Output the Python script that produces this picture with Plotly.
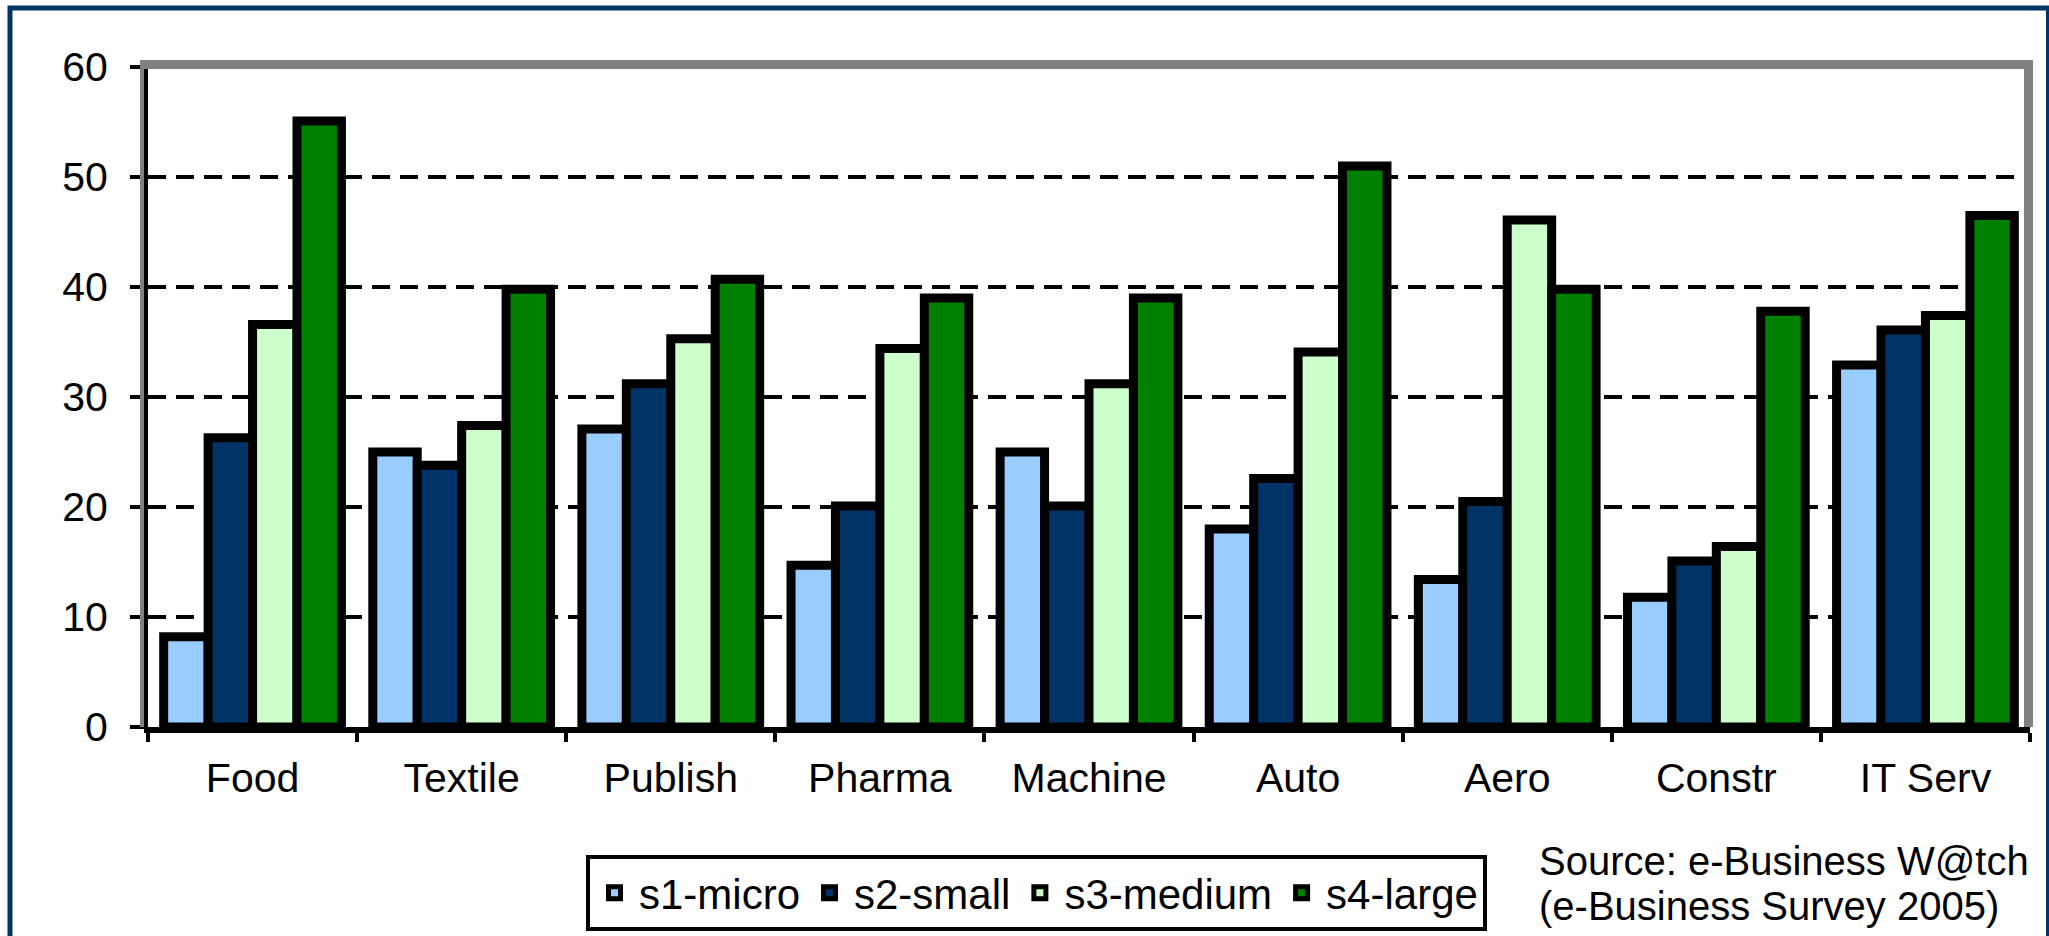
import plotly.graph_objects as go

categories = ["Food", "Textile", "Publish", "Pharma", "Machine", "Auto", "Aero", "Constr", "IT Serv"]
series_names = ["s1-micro", "s2-small", "s3-medium", "s4-large"]
s1_micro = [8.2, 25.0, 27.1, 14.7, 25.0, 18.0, 13.4, 11.8, 32.9]
s2_small = [26.3, 23.8, 31.2, 20.1, 20.1, 22.6, 20.5, 15.1, 36.1]
s3_medium = [36.6, 27.4, 35.3, 34.4, 31.2, 34.1, 46.1, 16.4, 37.4]
s4_large = [55.1, 39.8, 40.7, 39.0, 39.0, 51.0, 39.8, 37.8, 46.5]
colors = ["#99CCFF", "#003366", "#CCFFCC", "#008000"]
y_ticks = [0, 10, 20, 30, 40, 50, 60]
source_lines = ["Source: e-Business W@tch", "(e-Business Survey 2005)"]

W, H = 2049, 936
ML, MR, MT, MB = 148, 19, 67, 209
PW = W - ML - MR
PH = H - MT - MB


def px_x(p):
    return (p - ML) / PW


def px_y(p):
    return (H - MB - p) / PH


fig = go.Figure()
for name, vals, col in zip(series_names, [s1_micro, s2_small, s3_medium, s4_large], colors):
    fig.add_bar(x=categories, y=vals, name=name,
                marker=dict(color=col, line=dict(color="black", width=9)))

font_family = "Liberation Sans, Arial, sans-serif"

fig.update_layout(
    width=W, height=H,
    margin=dict(l=ML, r=MR, t=MT, b=MB, pad=0, autoexpand=False),
    paper_bgcolor="white", plot_bgcolor="white",
    font=dict(family=font_family, color="black"),
    barmode="group", bargap=0.15, bargroupgap=0,
    showlegend=True,
    legend=dict(orientation="h", x=px_x(586), y=px_y(855), xanchor="left", yanchor="top",
                font=dict(size=42, family=font_family, color="black"),
                bordercolor="black", borderwidth=4, bgcolor="white",
                traceorder="normal", itemwidth=39),
    xaxis=dict(type="category", tickson="boundaries", ticks="outside", ticklen=9, tickwidth=4,
               tickcolor="black", showline=True, linecolor="black", linewidth=6,
               showgrid=False, tickfont=dict(size=41), ticklabelstandoff=10,
               range=[-0.5, len(categories) - 0.5]),
    yaxis=dict(range=[0, 60], tickvals=y_ticks, ticks="outside", ticklen=14, tickwidth=4,
               tickcolor="black", showline=True, linecolor="black", linewidth=4,
               showgrid=True, gridcolor="black", gridwidth=3.5, griddash="18px,10px",
               zeroline=False, tickfont=dict(size=41), ticklabelstandoff=14),
)

shapes = [
    # gray plot frame (top, right, left sliver)
    dict(type="line", xref="paper", yref="paper", x0=px_x(144), x1=px_x(2033),
         y0=px_y(64.5), y1=px_y(64.5), line=dict(color="#808080", width=9), layer="above"),
    dict(type="line", xref="paper", yref="paper", x0=px_x(2028.5), x1=px_x(2028.5),
         y0=px_y(60), y1=px_y(727), line=dict(color="#808080", width=9), layer="above"),
    dict(type="line", xref="paper", yref="paper", x0=px_x(142), x1=px_x(142),
         y0=px_y(60), y1=px_y(727), line=dict(color="#808080", width=4), layer="above"),
    # navy outer border
    dict(type="rect", xref="paper", yref="paper", x0=px_x(10), x1=px_x(2048.5),
         y0=px_y(975), y1=px_y(8), line=dict(color="#003366", width=5),
         fillcolor="rgba(0,0,0,0)", layer="above"),
]
fig.update_layout(shapes=shapes)

for txt, yc in zip(source_lines, [861, 906]):
    fig.add_annotation(text=txt, xref="paper", yref="paper", x=px_x(1537), y=px_y(yc),
                       xanchor="left", yanchor="middle", showarrow=False,
                       font=dict(size=40, family=font_family, color="black"))

fig.write_html("out.html", config={"displayModeBar": False},
               post_script="document.body.style.margin='0';document.body.style.overflow='hidden';")
